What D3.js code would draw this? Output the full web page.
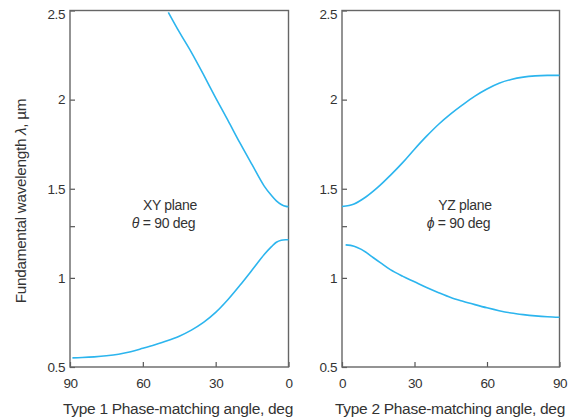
<!DOCTYPE html>
<html>
<head>
<meta charset="utf-8">
<script src="https://cdn.jsdelivr.net/npm/d3@7"></script>
<style>
  body { margin: 0; background: #fff; }
  svg { display: block; font-family: "Liberation Sans", Arial, sans-serif; }
  .tick text { fill: #333; font-size: 13.5px; letter-spacing: -0.4px; }
  .tick line { stroke: #555; stroke-width: 1.2; }
  .frame { fill: none; stroke: #666; stroke-width: 1.4; }
  .curve { fill: none; stroke: #2cb5ee; stroke-width: 1.6; }
  .ann { fill: #333; font-size: 14px; letter-spacing: -0.3px; }
  .title { fill: #333; font-size: 15.5px; letter-spacing: -0.3px; }
</style>
</head>
<body>
<svg width="584" height="419"></svg>
<script>
// type 1, XY plane (theta = 90 deg)
var xyUpperAngle  = [49.5, 45, 40, 35, 30, 25, 20, 15, 10, 7, 5, 3, 1, 0];
var xyUpperLambda = [2.49, 2.38, 2.265, 2.14, 2.01, 1.885, 1.757, 1.635, 1.515, 1.462, 1.432, 1.412, 1.401, 1.40];
var xyLowerAngle  = [89, 85, 80, 75, 70, 65, 60, 55, 50, 45, 40, 35, 30, 25, 20, 15, 10, 7, 5, 3, 1, 0];
var xyLowerLambda = [0.551, 0.553, 0.557, 0.563, 0.572, 0.586, 0.605, 0.625, 0.647, 0.673, 0.707, 0.75, 0.806, 0.877, 0.958, 1.044, 1.131, 1.175, 1.2, 1.211, 1.214, 1.214];

// type 2, YZ plane (phi = 90 deg)
var yzUpperAngle  = [0, 5, 10, 15, 20, 25, 30, 35, 40, 45, 50, 55, 60, 65, 70, 75, 80, 85, 90];
var yzUpperLambda = [1.40, 1.415, 1.455, 1.51, 1.575, 1.645, 1.722, 1.795, 1.862, 1.92, 1.972, 2.02, 2.06, 2.092, 2.113, 2.126, 2.133, 2.136, 2.136];
var yzLowerAngle  = [1.5, 5, 8, 10, 13, 16, 20, 25, 30, 35, 40, 45, 50, 55, 60, 65, 70, 75, 80, 85, 90];
var yzLowerLambda = [1.185, 1.178, 1.16, 1.143, 1.113, 1.084, 1.046, 1.01, 0.978, 0.946, 0.917, 0.89, 0.869, 0.85, 0.832, 0.816, 0.803, 0.794, 0.787, 0.782, 0.779];

var xTicks = [0, 30, 60, 90];
var yTicks = [0.5, 1, 1.5, 2, 2.5];
var yMinorTicks = [1.29];
var yLabels = {0.5: "0.5", 1: "1", 1.5: "1.5", 2: "2", 2.5: "2.5"};

var svg = d3.select("svg"),
    plotTop = 10.5, plotBottom = 367;

var y = d3.scaleLinear().domain([0.5, 2.5]).range([plotBottom, plotTop]);

var panels = [
    {left: 70, right: 288.5, dom: [90, 0], title: "Type 1 Phase-matching angle, deg", titleX: 178,
     curves: [[xyUpperAngle, xyUpperLambda], [xyLowerAngle, xyLowerLambda]],
     ann: ["XY plane", "\u03b8", 170]},
    {left: 342, right: 559.5, dom: [0, 90], title: "Type 2 Phase-matching angle, deg", titleX: 450,
     curves: [[yzUpperAngle, yzUpperLambda], [yzLowerAngle, yzLowerLambda]],
     ann: ["YZ plane", "\u03d5", 465]}
];

panels.forEach(function (p) {
    var x = d3.scaleLinear().domain(p.dom).range([p.left, p.right]);
    var g = svg.append("g");

    g.append("g")
        .attr("transform", "translate(0," + plotBottom + ")")
        .call(d3.axisBottom(x).tickValues(xTicks).tickSizeInner(-5).tickSizeOuter(0).tickPadding(11))
        .call(function (a) { a.select(".domain").remove(); });

    g.append("g")
        .attr("transform", "translate(" + p.left + ",0)")
        .call(d3.axisLeft(y).tickValues(yTicks).tickSizeInner(-5).tickSizeOuter(0).tickPadding(5)
            .tickFormat(function (d) { return yLabels[d]; }))
        .call(function (a) {
            a.select(".domain").remove();
            a.selectAll(".tick").filter(function (d) { return d === 2.5; })
                .select("text").attr("dy", "0.75em").attr("y", -2);
        });

    g.append("g")
        .attr("transform", "translate(" + p.left + ",0)")
        .call(d3.axisLeft(y).tickValues(yMinorTicks).tickSizeInner(-5).tickSizeOuter(0).tickFormat(""))
        .call(function (a) { a.select(".domain").remove(); });

    g.append("rect")
        .attr("class", "frame")
        .attr("x", p.left).attr("y", plotTop)
        .attr("width", p.right - p.left).attr("height", plotBottom - plotTop);

    var line = d3.line()
        .x(function (d) { return x(d[0]); })
        .y(function (d) { return y(d[1]); })
        .curve(d3.curveCatmullRom.alpha(0.5));

    p.curves.forEach(function (c) {
        var pts = c[0].map(function (a, i) { return [a, c[1][i]]; });
        pts.sort(function (a, b) { return x(a[0]) - x(b[0]); });
        g.append("path").attr("class", "curve").attr("d", line(pts));
    });

    g.append("text").attr("class", "ann")
        .attr("x", p.ann[2]).attr("y", 210)
        .attr("text-anchor", "middle").text(p.ann[0]);
    var t2 = g.append("text").attr("class", "ann")
        .attr("x", p.ann[2] - 6.5).attr("y", 228)
        .attr("text-anchor", "middle");
    t2.append("tspan").attr("font-style", "italic").text(p.ann[1]);
    t2.append("tspan").text(" = 90 deg");

    g.append("text").attr("class", "title")
        .attr("x", p.titleX).attr("y", 414)
        .attr("text-anchor", "middle").text(p.title);
});

var yTitle = svg.append("text").attr("class", "title")
    .attr("transform", "translate(26,201) rotate(-90)")
    .attr("text-anchor", "middle")
    .style("font-size", "15.3px");
yTitle.append("tspan").text("Fundamental  wavelength ");
yTitle.append("tspan").attr("font-style", "italic").text("\u03bb");
yTitle.append("tspan").text(", \u00b5m");
</script>
</body>
</html>
